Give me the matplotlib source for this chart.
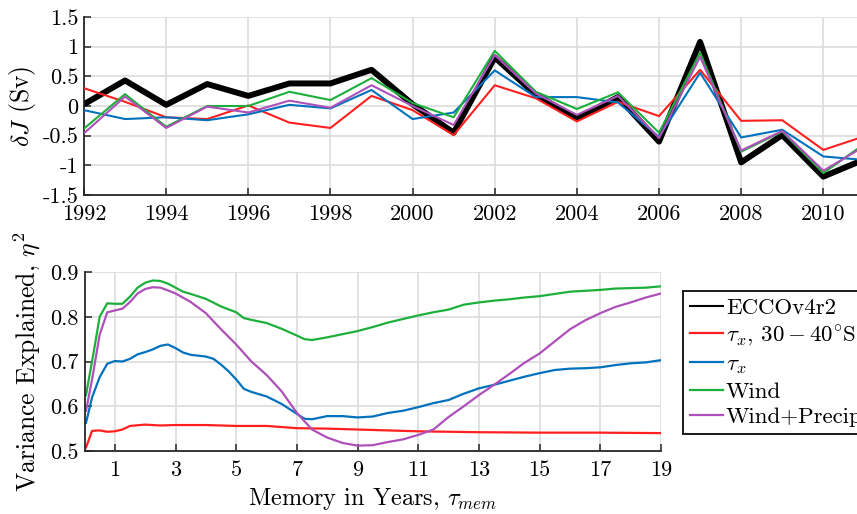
import numpy as np
import matplotlib
matplotlib.use("Agg")
import matplotlib.pyplot as plt
from matplotlib.ticker import FuncFormatter

plt.rcParams["font.family"] = "cmr10"
plt.rcParams["mathtext.fontset"] = "cm"
plt.rcParams["axes.unicode_minus"] = False
plt.rcParams["font.size"] = 16

# annual AMOC anomalies (Sv)
years = np.arange(1992, 2012)
ecco = [0.03, 0.43, 0.02, 0.37, 0.17, 0.38, 0.38, 0.61, 0.03, -0.45,
        0.82, 0.19, -0.21, 0.15, -0.60, 1.08, -0.95, -0.49, -1.19, -0.90]
taux_3040 = [0.30, 0.07, -0.19, -0.22, 0.01, -0.28, -0.37, 0.17, -0.07, -0.49,
             0.35, 0.13, -0.26, 0.07, -0.17, 0.61, -0.25, -0.24, -0.74, -0.51]
taux = [-0.07, -0.22, -0.19, -0.24, -0.14, 0.02, -0.04, 0.27, -0.22, -0.11,
        0.60, 0.15, 0.15, 0.06, -0.52, 0.56, -0.53, -0.40, -0.85, -0.91]
wind = [-0.38, 0.20, -0.35, 0.00, 0.00, 0.24, 0.10, 0.47, 0.05, -0.19,
        0.93, 0.24, -0.05, 0.23, -0.45, 0.90, -0.77, -0.43, -1.13, -0.64]
wind_precip = [-0.46, 0.16, -0.37, -0.01, -0.11, 0.09, -0.03, 0.35, 0.00, -0.32,
               0.86, 0.21, -0.15, 0.17, -0.54, 0.83, -0.75, -0.42, -1.09, -0.68]

# variance explained vs memory length
mem_green = [0.05, 0.3, 0.5, 0.75, 1.0, 1.25, 1.5, 1.75, 2.0, 2.25, 2.5, 2.75, 3.0,
             3.25, 3.5, 4.0, 4.5, 5.0, 5.25, 5.5, 6.0, 6.5, 7.0, 7.25, 7.5, 8.0,
             8.5, 9.0, 9.5, 10.0, 10.5, 11.0, 11.5, 12.0, 12.5, 13.0, 13.5, 14.0,
             14.5, 15.0, 15.5, 16.0, 16.5, 17.0, 17.5, 18.0, 18.5, 19.0]
eta_wind = [0.625, 0.72, 0.80, 0.830, 0.829, 0.829, 0.845, 0.865, 0.876, 0.881,
            0.880, 0.874, 0.865, 0.856, 0.851, 0.840, 0.823, 0.810, 0.797, 0.793,
            0.786, 0.773, 0.758, 0.750, 0.748, 0.754, 0.761, 0.768, 0.777, 0.787,
            0.795, 0.803, 0.810, 0.816, 0.827, 0.832, 0.836, 0.839, 0.843, 0.846,
            0.851, 0.856, 0.858, 0.860, 0.863, 0.864, 0.865, 0.868]

mem_purple = [0.05, 0.25, 0.5, 0.75, 1.0, 1.25, 1.5, 1.75, 2.0, 2.25, 2.5, 2.75,
              3.0, 3.5, 4.0, 4.5, 5.0, 5.5, 6.0, 6.5, 7.0, 7.5, 8.0, 8.5, 9.0,
              9.5, 10.0, 10.5, 11.0, 11.5, 12.0, 12.5, 13.0, 13.5, 14.0, 14.5,
              15.0, 15.5, 16.0, 16.5, 17.0, 17.5, 18.0, 18.5, 19.0]
eta_wind_precip = [0.59, 0.66, 0.76, 0.81, 0.814, 0.818, 0.833, 0.852, 0.862,
                   0.866, 0.865, 0.859, 0.852, 0.833, 0.808, 0.772, 0.738, 0.700,
                   0.670, 0.633, 0.585, 0.548, 0.530, 0.518, 0.512, 0.513, 0.520,
                   0.526, 0.536, 0.548, 0.576, 0.600, 0.625, 0.648, 0.672, 0.697,
                   0.718, 0.745, 0.772, 0.792, 0.808, 0.822, 0.832, 0.843, 0.852]

mem_blue = [0.05, 0.25, 0.5, 0.75, 1.0, 1.25, 1.5, 1.75, 2.0, 2.25, 2.5, 2.75,
            3.0, 3.25, 3.5, 4.0, 4.25, 4.5, 4.75, 5.0, 5.25, 5.5, 6.0, 6.5, 7.0,
            7.25, 7.5, 8.0, 8.5, 9.0, 9.5, 10.0, 10.5, 11.0, 11.5, 12.0, 12.5,
            13.0, 13.5, 14.0, 14.5, 15.0, 15.5, 16.0, 16.5, 17.0, 17.5, 18.0,
            18.5, 19.0]
eta_taux = [0.563, 0.62, 0.665, 0.695, 0.701, 0.700, 0.706, 0.716, 0.721, 0.727,
            0.735, 0.738, 0.730, 0.720, 0.715, 0.711, 0.706, 0.693, 0.678, 0.660,
            0.639, 0.632, 0.622, 0.605, 0.583, 0.572, 0.571, 0.578, 0.578, 0.575,
            0.577, 0.585, 0.590, 0.598, 0.607, 0.614, 0.628, 0.640, 0.648, 0.657,
            0.666, 0.674, 0.681, 0.684, 0.685, 0.687, 0.692, 0.696, 0.698, 0.703]

mem_red = [0.05, 0.25, 0.5, 0.75, 1.0, 1.25, 1.5, 2.0, 2.5, 3.0, 4.0, 5.0, 6.0,
           7.0, 8.0, 9.0, 10.0, 11.0, 13.0, 15.0, 17.0, 19.0]
eta_taux_3040 = [0.508, 0.545, 0.546, 0.543, 0.544, 0.548, 0.556, 0.559, 0.557,
                 0.558, 0.558, 0.556, 0.556, 0.551, 0.550, 0.548, 0.546, 0.544,
                 0.542, 0.541, 0.541, 0.540]

labels = ["ECCOv4r2", r"$\tau_x$, $30-40^{\circ}$S", r"$\tau_x$", "Wind", "Wind+Precip"]
colors = ["black", "#FF1F1F", "#0072BD", "#1DAF3C", "#AE50BA"]

W, H = 857, 514
fig = plt.figure(figsize=(W / 100, H / 100), dpi=100)

gray = "#DCDCDC"
spine_c = "#262626"


def style_axes(ax):
    for s in ["top", "right"]:
        ax.spines[s].set_visible(False)
    for s in ["left", "bottom"]:
        ax.spines[s].set_color(spine_c)
        ax.spines[s].set_linewidth(1.3)
    ax.grid(True, color=gray, linewidth=1.2)
    ax.set_axisbelow(True)
    ax.tick_params(direction="in", length=5, width=1.1, color=spine_c,
                   labelsize=16)
    ax.tick_params(axis="x", pad=7)
    ax.tick_params(axis="y", pad=4)
    ax.yaxis.set_major_formatter(FuncFormatter(lambda v, p: f"{v:g}"))


# top panel: time series
ax1 = fig.add_axes([84 / W, 1 - 195 / H, (864.4 - 84) / W, (195 - 17) / H])
style_axes(ax1)
ax1.plot(years, ecco, color=colors[0], lw=4.3, zorder=2)
ax1.plot(years, taux_3040, color=colors[1], lw=1.5, zorder=3)
ax1.plot(years, taux, color=colors[2], lw=1.5, zorder=3)
ax1.plot(years, wind, color=colors[3], lw=1.5, zorder=3)
ax1.plot(years, wind_precip, color=colors[4], lw=1.5, zorder=3)
ax1.set_xlim(1992, 2011)
ax1.set_ylim(-1.5, 1.5)
ax1.set_xticks(np.arange(1992, 2011, 2))
ax1.set_yticks(np.arange(-1.5, 1.51, 0.5))
ax1.set_ylabel(r"$\delta J$ (Sv)", fontsize=18.5, labelpad=3)

# bottom panel: variance explained
ax2 = fig.add_axes([84.5 / W, 1 - 451 / H, (661 - 84.5) / W, (451 - 272) / H])
style_axes(ax2)
ax2.plot([], [], color=colors[0], lw=1.5, label=labels[0])
ax2.plot(mem_red, eta_taux_3040, color=colors[1], lw=1.6, label=labels[1])
ax2.plot(mem_blue, eta_taux, color=colors[2], lw=1.6, label=labels[2])
ax2.plot(mem_green, eta_wind, color=colors[3], lw=1.6, label=labels[3])
ax2.plot(mem_purple, eta_wind_precip, color=colors[4], lw=1.6, label=labels[4])
ax2.set_xlim(0, 19)
ax2.set_ylim(0.5, 0.9)
ax2.set_xticks(np.arange(1, 20, 2))
ax2.set_yticks(np.arange(0.5, 0.91, 0.1))
ax2.set_xlabel(r"Memory in Years, $\tau_{mem}$", fontsize=17.5, labelpad=4)
ax2.set_ylabel(r"Variance Explained, $\eta^2$", fontsize=18.5, labelpad=5)

leg = fig.legend(loc="upper left", bbox_to_anchor=(683 / W, 1 - 291 / H),
                 fontsize=16.5, frameon=True, fancybox=False, handlelength=1.45,
                 handletextpad=0.12, borderpad=0.3, labelspacing=0.24,
                 borderaxespad=0)
leg.get_frame().set_edgecolor("#1a1a1a")
leg.get_frame().set_linewidth(1.4)
leg.get_frame().set_alpha(1)

fig.savefig("out.png", dpi=100)
